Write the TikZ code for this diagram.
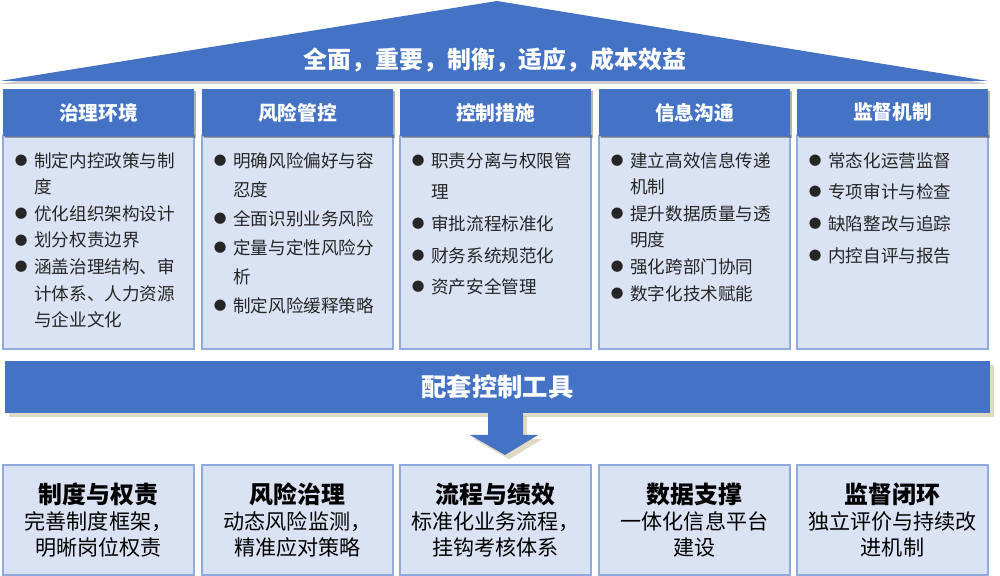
\documentclass[tikz,border=0pt]{standalone}
\usepackage{fontspec}
\setmainfont{Noto Sans CJK SC}
\usetikzlibrary{shadows}

\definecolor{roofblue}{HTML}{4472C4}
\definecolor{paleblue}{HTML}{DAE3F3}
\definecolor{edgeblue}{HTML}{8FAADC}
\definecolor{shadowtan}{HTML}{C2B48A}

\newcommand{\bul}{\makebox[0.5cm][l]{\hspace{0.5pt}\raisebox{0.1em}{\scalebox{0.72}{●}}}}
\newcommand{\cont}{\hspace*{0.5cm}}

\begin{document}
\begin{tikzpicture}[x=0.025cm, y=-0.025cm,
		head/.style={fill=roofblue, text=white, font=\fontsize{14}{17}\selectfont\bfseries, minimum width=4.775cm, minimum height=1.175cm, inner sep=0pt, drop shadow={shadow xshift=1.2pt, shadow yshift=-1.2pt, fill=black, opacity=0.3}},
		body/.style={fill=paleblue, draw=edgeblue, line width=0.8pt, minimum width=4.775cm, minimum height=5.325cm, inner sep=0pt},
		items/.style={anchor=north west, inner sep=0pt, align=left, text=black!85, font=\fontsize{12.5}{#1}\selectfont},
		tool/.style={fill=paleblue, draw=edgeblue, line width=0.8pt, minimum width=4.775cm, minimum height=2.75cm, inner sep=0pt, align=center, text=black, font=\fontsize{15}{18.4}\selectfont},
		banner/.style={fill=roofblue, text=white, font=\fontsize{18}{20}\selectfont\bfseries, minimum width=24.625cm, minimum height=1.3cm, inner sep=0pt, drop shadow={shadow xshift=3pt, shadow yshift=-3pt, fill=shadowtan}}]
		\useasboundingbox (0,0) rectangle (1000,576);
		
		% roof
		\fill[roofblue, drop shadow={shadow xshift=0pt, shadow yshift=-2pt, fill=black, opacity=0.2}] (0,81) -- (497,1) -- (988,81) -- cycle;
		\node[text=white, font=\fontsize{17}{20}\selectfont\bfseries] (motto) at (495,60) {全面，重要，制衡，适应，成本效益};
		
		% five pillars
		\node[body]	(b1) at (98.5,242.5) {};
		\node[body]	(b2) at (297.5,242.5) {};
		\node[body]	(b3) at (495.5,242.5) {};
		\node[body]	(b4) at (694.5,242.5) {};
		\node[body]	(b5) at (892.5,242.5) {};
		\node[head]	(h1) at (98.5,112.5) {治理环境};
		\node[head]	(h2) at (297.5,112.5) {风险管控};
		\node[head]	(h3) at (495.5,112.5) {控制措施};
		\node[head]	(h4) at (694.5,112.5) {信息沟通};
		\node[head]	(h5) at (892.5,112.5) {监督机制};
		
		\node[items=18.9pt]	(t1) at (14,152) {\bul 制定内控政策与制\\
			\cont 度\\
			\bul 优化组织架构设计\\
			\bul 划分权责边界\\
			\bul 涵盖治理结构、审\\
			\cont 计体系、人力资源\\
			\cont 与企业文化};
		\node[items=20.6pt]	(t2) at (213,152) {\bul 明确风险偏好与容\\
			\cont 忍度\\
			\bul 全面识别业务风险\\
			\bul 定量与定性风险分\\
			\cont 析\\
			\bul 制定风险缓释策略};
		\node[items=22.5pt]	(t3) at (411,152) {\bul 职责分离与权限管\\
			\cont 理\\
			\bul 审批流程标准化\\
			\bul 财务系统规范化\\
			\bul 资产安全管理};
		\node[items=18.9pt]	(t4) at (610,152) {\bul 建立高效信息传递\\
			\cont 机制\\
			\bul 提升数据质量与透\\
			\cont 明度\\
			\bul 强化跨部门协同\\
			\bul 数字化技术赋能};
		\node[items=22.5pt]	(t5) at (808,152) {\bul 常态化运营监督\\
			\bul 专项审计与检查\\
			\bul 缺陷整改与追踪\\
			\bul 内控自评与报告};
		
		% supporting tools
		\node[banner]	(tools) at (497.5,387) {配套控制工具};
		\fill[roofblue, drop shadow={shadow xshift=3pt, shadow yshift=-3pt, fill=shadowtan}] (488,412) -- (523,412) -- (523,435) -- (538,435) -- (505,455) -- (470,435) -- (488,435) -- cycle;
		
		\node[tool]	(k1) at (98.5,520) {{\fontsize{17}{18.4}\selectfont\bfseries 制度与权责}\\完善制度框架，\\明晰岗位权责};
		\node[tool]	(k2) at (297.5,520) {{\fontsize{17}{18.4}\selectfont\bfseries 风险治理}\\动态风险监测，\\精准应对策略};
		\node[tool]	(k3) at (495.5,520) {{\fontsize{17}{18.4}\selectfont\bfseries 流程与绩效}\\标准化业务流程，\\挂钩考核体系};
		\node[tool]	(k4) at (694.5,520) {{\fontsize{17}{18.4}\selectfont\bfseries 数据支撑}\\一体化信息平台\\建设};
		\node[tool]	(k5) at (892.5,520) {{\fontsize{17}{18.4}\selectfont\bfseries 监督闭环}\\独立评价与持续改\\进机制};
	\end{tikzpicture}
\end{document}
